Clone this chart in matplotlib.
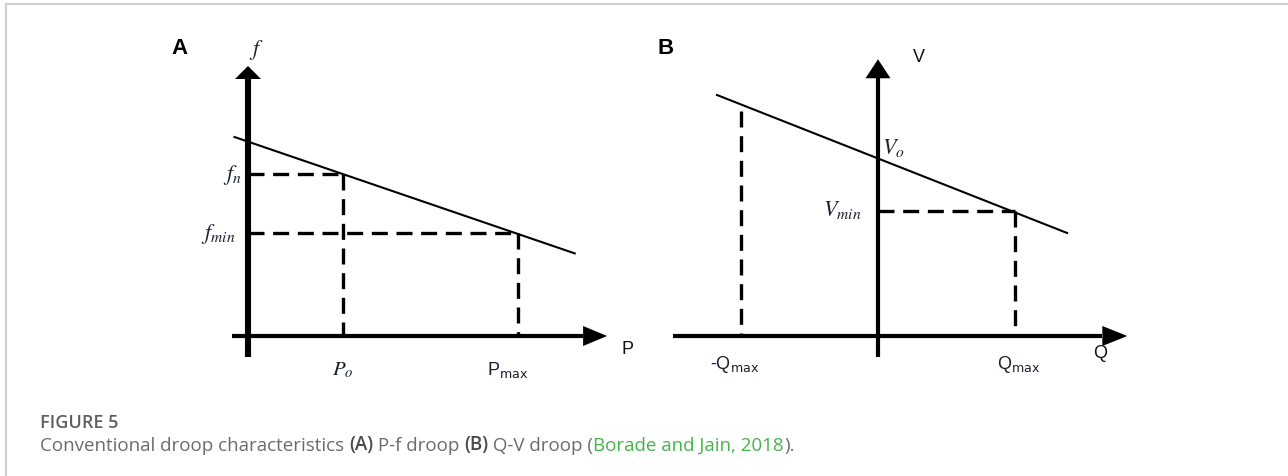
import matplotlib
matplotlib.use("Agg")
import matplotlib.pyplot as plt
from matplotlib.lines import Line2D

# ---- diagram data (panel A: P-f droop, panel B: Q-V droop) ----
p_ticks = [0.35, 1.0]                 # P_o, P_max
p_tick_labels = [r"$P_o$", r"P$_{\rm max}$"]
f_levels = [0.60, 0.38]               # f_n, f_min
f_level_labels = [r"$f_n$", r"$f_{min}$"]
droop_pf_p = [-0.05, 1.21]
droop_pf_f = [0.737, 0.306]

q_ticks = [-1.0, 1.0]                 # -Q_max, Q_max
q_tick_labels = [r"-Q$_{\rm max}$", r"Q$_{\rm max}$"]
q_dash_tops = [1.64, 0.91]
v_levels = [0.91]                     # V_min
v_level_labels = [r"$V_{min}$"]
v_o = 1.30
droop_qv_q = [-1.175, 1.38]
droop_qv_v = [1.759, 0.752]

W, H = 1288, 477
fig = plt.figure(figsize=(W / 100, H / 100), dpi=100)

INK = "#1b1f2e"
DASH = dict(color="black", lw=2.4, linestyle=(0, (4.8, 2.6)), dash_capstyle="butt")


def panel(x0, x1, y0, y1, ox, oy, s):
    # axes placed by pixel box, origin (ox, oy) in pixels, s pixels per unit
    ax = fig.add_axes([x0 / W, 1 - y1 / H, (x1 - x0) / W, (y1 - y0) / H])
    ax.set_xlim((x0 - ox) / s, (x1 - ox) / s)
    ax.set_ylim((oy - y1) / s, (oy - y0) / s)
    ax.axis("off")
    return ax


def axis_arrow(ax, start, tip, s, lw, head_len, head_half, vertical):
    hl, hw = head_len / s, head_half / s
    base = tip - hl
    if vertical:
        ax.plot([0, 0], [start, base], color="black", lw=lw, solid_capstyle="butt")
        ax.fill([-hw, hw, 0], [base, base, tip], color="black", lw=0)
    else:
        ax.plot([start, base], [0, 0], color="black", lw=lw, solid_capstyle="butt")
        ax.fill([base, base, tip], [-hw, hw, 0], color="black", lw=0)


# ---- panel A ----
sA = 270
axA = panel(150, 660, 20, 400, 248, 337, sA)
axis_arrow(axA, -0.078, 1.0, sA, 4.4, 13, 13, True)
axis_arrow(axA, -0.059, 1.33, sA, 3.0, 24, 10, False)
axA.plot(droop_pf_p, droop_pf_f, color="black", lw=1.5)
for p, f in zip(p_ticks, f_levels):
    axA.plot([0, p], [f, f], **DASH)
    axA.plot([p, p], [f, 0], **DASH)
for p, lab in zip(p_ticks, p_tick_labels):
    if lab.startswith("$"):
        axA.text(p, -0.122, lab, ha="center", va="center", fontsize=15,
                 color=INK, math_fontfamily="stix")
    else:
        axA.text(p - 0.037, -0.122, lab, ha="center", va="center", fontsize=13,
                 color=INK, family="Liberation Sans", math_fontfamily="dejavusans")
for f, lab, dx in zip(f_levels, f_level_labels, [-0.022, -0.048]):
    axA.text(dx, f, lab, ha="right", va="center", fontsize=16, color=INK,
             math_fontfamily="stix")
axA.text(0.03, 1.063, r"$f$", ha="center", va="center", fontsize=16, color=INK,
         math_fontfamily="stix")
axA.text(1.404, -0.048, "P", ha="center", va="center", fontsize=13,
         family="Liberation Sans", color="#111111")

# ---- panel B ----
sB = 137
axB = panel(660, 1180, 20, 400, 878, 337, sB)
axis_arrow(axB, -0.153, 2.02, sB, 3.0, 19, 12.5, True)
axis_arrow(axB, -1.50, 1.82, sB, 3.0, 25, 10, False)
axB.plot(droop_qv_q, droop_qv_v, color="black", lw=1.5)
for q, top in zip(q_ticks, q_dash_tops):
    axB.plot([q, q], [top, 0], **DASH)
for v in v_levels:
    axB.plot([0, q_ticks[1]], [v, v], **DASH)
for q, lab in zip(q_ticks, q_tick_labels):
    dx = -0.05 if q < 0 else 0.03
    axB.text(q + dx, -0.204, lab, ha="center", va="center", fontsize=13,
             color=INK, family="Liberation Sans", math_fontfamily="dejavusans")
for v, lab in zip(v_levels, v_level_labels):
    axB.text(-0.117, v + 0.015, lab, ha="right", va="center", fontsize=16, color=INK,
             math_fontfamily="stix")
axB.text(0.03, v_o + 0.08, r"$V_o$", ha="left", va="center", fontsize=16, color=INK,
         math_fontfamily="stix")
axB.text(0.30, 2.04, "V", ha="center", va="center", fontsize=13,
         family="Liberation Sans", color="#111111")
axB.text(1.62, -0.124, "Q", ha="center", va="center", fontsize=13,
         family="Liberation Sans", color="#111111")

# panel letters
fig.text(180 / W, 1 - 48 / H, "A", ha="center", va="center", fontsize=16,
         fontweight="bold", family="Liberation Sans")
fig.text(666 / W, 1 - 49 / H, "B", ha="center", va="center", fontsize=16,
         fontweight="bold", family="Liberation Sans")

# page frame lines
fig.add_artist(Line2D([6 / W, 1], [1 - 5 / H, 1 - 5 / H], color="#cfcfcf", lw=1.5))
fig.add_artist(Line2D([6 / W, 6 / W], [0, 1 - 5 / H], color="#cfcfcf", lw=1.5))

# caption, pieces chained left to right
fig.text(40 / W, 1 - 428 / H, "FIGURE 5", fontsize=13, family="Open Sans",
         fontweight="semibold", color="#5f5f5f", va="baseline")
parts = [
    ("Conventional droop characteristics ", "normal", "#6b6b6b"),
    ("(A)", "semibold", "#4a4a4a"),
    (" P-f droop ", "normal", "#6b6b6b"),
    ("(B)", "semibold", "#4a4a4a"),
    (" Q-V droop (", "normal", "#6b6b6b"),
    ("Borade and Jain, 2018", "normal", "#45b549"),
    (").", "normal", "#6b6b6b"),
]
anchor = fig.text(40 / W, 1 - 451 / H, parts[0][0], fontsize=13.5, family="Open Sans",
                  fontweight=parts[0][1], color=parts[0][2], va="baseline")
for txt, wt, col in parts[1:]:
    anchor = plt.annotate(txt, xy=(1, 0), xycoords=anchor, ha="left", va="bottom",
                          fontsize=13.5, family="Open Sans", fontweight=wt, color=col,
                          annotation_clip=False)

fig.savefig("out.png", dpi=100)
